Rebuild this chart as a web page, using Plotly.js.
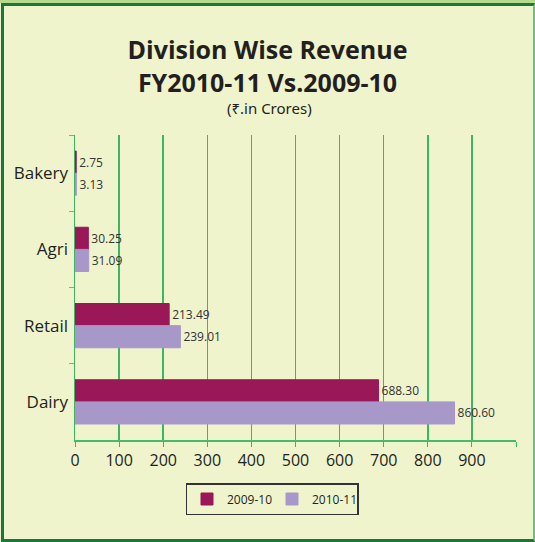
<!DOCTYPE html>
<html>
<head>
<meta charset="utf-8">
<script src="https://cdn.plot.ly/plotly-3.0.1.min.js"></script>
<style>
  html, body { margin: 0; padding: 0; background: #eff4cc; }
  #wrap { position: relative; width: 535px; height: 542px; overflow: hidden; }
  #chart { position: absolute; left: 0; top: 0; width: 535px; height: 542px; }
  #topband { position: absolute; left: 0; top: 0; width: 535px; height: 3px; background: #b7d98b; pointer-events: none; }
  #frame { position: absolute; left: 1px; top: 3px; width: 529px; height: 533px;
           border-left: 3px solid #17773c; border-top: 3px solid #17773c;
           border-right: 2px solid #6cbf84; border-bottom: 3px solid #17773c; pointer-events: none; }
</style>
</head>
<body>
<div id="wrap">
  <div id="chart"></div>
  <div id="topband"></div>
  <div id="frame"></div>
</div>
<script>
const categories = ['Bakery', 'Agri', 'Retail', 'Dairy'];
const rev2009 = [2.75, 30.25, 213.49, 688.30];
const rev2010 = [3.13, 31.09, 239.01, 860.60];
const seriesNames = ['2009-10', '2010-11'];
const xTickVals = [0, 100, 200, 300, 400, 500, 600, 700, 800, 900, 1000];
const xTickText = ['0', '100', '200', '300', '400', '500', '600', '700', '800', '900', ''];
const titleLine1 = 'Division Wise Revenue';
const titleLine2 = 'FY2010-11 Vs.2009-10';
const subtitle = '(₹.in Crores)';

const fmt = v => v.toFixed(2);
const TF = 'Open Sans, Noto Sans, sans-serif';

const traces = [
  {
    type: 'bar', orientation: 'h', name: seriesNames[0],
    y: categories, x: rev2009,
    text: rev2009.map(fmt), textposition: 'outside', cliponaxis: false,
    textfont: { family: TF, size: 12, color: '#333' },
    marker: { color: '#9a1758', line: { color: '#9a1758', width: 1 } }
  },
  {
    type: 'bar', orientation: 'h', name: seriesNames[1],
    y: categories, x: rev2010,
    text: rev2010.map(fmt), textposition: 'outside', cliponaxis: false,
    textfont: { family: TF, size: 12, color: '#333' },
    marker: { color: '#a897c9', line: { color: '#a897c9', width: 1 } }
  }
];

const px2py = p => (440 - p) / 305;
const px2px = p => (p - 75) / 441;

const layout = {
  width: 535, height: 542,
  paper_bgcolor: '#eff4cc', plot_bgcolor: 'rgba(0,0,0,0)',
  margin: { l: 75, r: 19, t: 135, b: 102 },
  barmode: 'group', bargap: 0.42, bargroupgap: 0,
  font: { family: TF, color: '#222' },
  title: {
    text: '<b>' + titleLine1 + '<br>' + titleLine2 + '</b>',
    font: { family: TF, size: 25, color: '#231f20' },
    xref: 'container', x: 0.5, xanchor: 'center',
    yref: 'container', y: 1 - 59 / 542, yanchor: 'middle'
  },
  annotations: [
    {
      text: subtitle, xref: 'paper', yref: 'paper',
      x: px2px(269), y: px2py(108), xanchor: 'center', yanchor: 'middle',
      showarrow: false, font: { family: 'Noto Sans, sans-serif', size: 15, color: '#231f20' }
    }
  ],
  xaxis: {
    range: [0, 1000], tickvals: xTickVals, ticktext: xTickText,
    showgrid: true, gridcolor: '#3db562', gridwidth: 1.5,
    showline: true, linecolor: '#45bb6c', linewidth: 1.5,
    ticks: 'outside', ticklen: 5, tickcolor: '#3db562',
    tickfont: { size: 16, color: '#231f20' }, zeroline: false, fixedrange: true
  },
  yaxis: {
    type: 'category', autorange: 'reversed',
    showline: true, linecolor: '#3db562', linewidth: 1.5,
    ticks: 'outside', tickson: 'boundaries', ticklen: 5, tickcolor: '#5cc27b',
    tickfont: { size: 17, color: '#231f20' }, ticklabelstandoff: 2, showgrid: false, fixedrange: true
  },
  showlegend: true,
  legend: {
    orientation: 'h', xref: 'paper', yref: 'paper',
    x: px2px(272), xanchor: 'center', y: px2py(483), yanchor: 'top',
    bordercolor: '#333', borderwidth: 1.5, bgcolor: 'rgba(0,0,0,0)',
    font: { size: 12, color: '#231f20' }, itemwidth: 30, entrywidth: 40, traceorder: 'normal'
  }
};

Plotly.newPlot('chart', traces, layout, { displayModeBar: false, staticPlot: true });
</script>
</body>
</html>
